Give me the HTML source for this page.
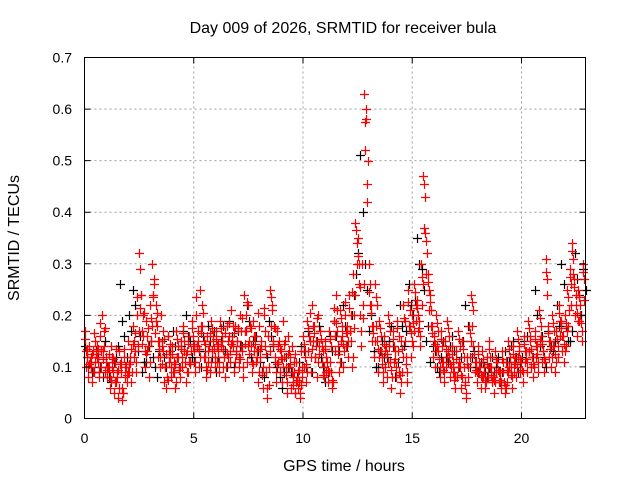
<!DOCTYPE html>
<html><head><meta charset="utf-8"><style>
body{margin:0;background:#fff;}
svg{display:block;font-family:"Liberation Sans",sans-serif;}
</style></head><body>
<svg id="chart" width="640" height="480" viewBox="0 0 640 480">
<rect x="0" y="0" width="640" height="480" fill="#fff"/>
<g id="grid"></g>
<g id="marks"></g>
<rect x="84.5" y="57.5" width="501" height="361" fill="none" stroke="#000" stroke-width="1"/>
<g id="ticks" font-size="14" fill="#000"></g>
<text x="343" y="33" text-anchor="middle" font-size="16">Day 009 of 2026, SRMTID for receiver bula</text>
<text x="344" y="471" text-anchor="middle" font-size="16">GPS time / hours</text>
<text transform="translate(19,238) rotate(-90)" text-anchor="middle" font-size="16">SRMTID / TECUs</text>
</svg>
<script>
const xTicks=[0,5,10,15,20];
const yTicks=[0,0.1,0.2,0.3,0.4,0.5,0.6,0.7];
const yTickLabels=["0","0.1","0.2","0.3","0.4","0.5","0.6","0.7"];
const redStart=0, redStep=0.1, blackStart=0, blackStep=0.2;
const redA=[.17,.12,.14,.10,.13,.15,.11,.16,.20,.14,
.12,.10,.14,.09,.11,.08,.13,.06,.12,.10,
.15,.11,.18,.13,.20,.32,.24,.16,.19,.14,
.22,.30,.26,.18,.15,.20,.13,.10,.16,.12,
.14,.09,.17,.12,.15,.18,.11,.13,.16,.19,
.13,.20,.15,.25,.18,.12,.16,.14,.19,.15,
.17,.13,.19,.15,.12,.18,.16,.21,.14,.18,
.15,.20,.13,.24,.17,.22,.14,.19,.16,.12,
.18,.14,.20,.09,.16,.25,.21,.12,.17,.15,
.13,.19,.10,.16,.12,.14,.09,.11,.07,.13,
.16,.12,.19,.15,.22,.18,.14,.20,.17,.13,
.15,.11,.17,.09,.19,.24,.14,.21,.16,.20,
.18,.24,.15,.28,.38,.35,.20,.30,.63,.58,
.30,.22,.18,.26,.15,.19,.12,.16,.14,.20,
.11,.17,.13,.19,.09,.15,.22,.12,.25,.18,
.20,.26,.23,.19,.30,.47,.36,.28,.24,.18,
.16,.20,.13,.17,.11,.15,.19,.12,.14,.09,
.13,.17,.10,.15,.07,.12,.18,.24,.14,.11,
.14,.10,.13,.09,.12,.15,.10,.08,.13,.11,
.09,.13,.07,.11,.15,.10,.14,.12,.17,.13,
.11,.16,.13,.19,.15,.12,.17,.14,.21,.16,
.13,.31,.18,.15,.20,.14,.17,.22,.19,.16,
.20,.25,.29,.34,.27,.22,.25,.20,.30];
const redB=[.10,.08,.11,.07,.09,.12,.08,.10,.13,.09,
.08,.06,.10,.05,.07,.04,.09,.05,.08,.07,
.09,.07,.12,.09,.14,.29,.17,.10,.13,.08,
.15,.24,.19,.12,.10,.14,.07,.06,.11,.08,
.09,.06,.12,.08,.10,.13,.07,.09,.11,.14,
.09,.14,.10,.18,.12,.08,.11,.09,.13,.10,
.11,.09,.14,.10,.08,.12,.11,.15,.09,.13,
.10,.14,.08,.17,.11,.15,.09,.13,.11,.07,
.12,.06,.14,.04,.10,.18,.15,.07,.11,.09,
.07,.12,.05,.10,.06,.08,.05,.06,.04,.08,
.10,.07,.13,.09,.15,.12,.08,.14,.11,.08,
.09,.07,.11,.06,.13,.17,.09,.15,.10,.14,
.12,.17,.10,.20,.30,.26,.14,.22,.52,.42,
.22,.15,.12,.18,.09,.13,.07,.10,.08,.14,
.06,.11,.08,.13,.05,.09,.15,.07,.18,.12,
.14,.19,.17,.14,.22,.37,.28,.21,.18,.12,
.10,.14,.08,.11,.07,.10,.13,.08,.09,.06,
.08,.11,.06,.10,.04,.08,.12,.18,.09,.07,
.09,.06,.08,.06,.08,.10,.07,.05,.09,.07,
.06,.09,.05,.07,.10,.06,.09,.08,.12,.09,
.07,.11,.09,.13,.10,.08,.12,.09,.15,.11,
.09,.24,.12,.10,.14,.09,.12,.16,.13,.11,
.14,.18,.22,.28,.20,.16,.19,.15,.23];
const redC=[.13,.10,.12,.09,.11,.14,.09,.13,.17,.11,
.10,.08,.12,.07,.09,.06,.11,.05,.10,.09,
.12,.09,.15,.11,.17,.24,.20,.13,.16,.11,
.18,.27,.22,.15,.12,.17,.10,.08,.13,.10,
.11,.07,.14,.10,.12,.15,.09,.11,.13,.16,
.11,.17,.12,.22,.15,.10,.13,.11,.16,.12,
.14,.11,.16,.12,.10,.15,.13,.18,.11,.15,
.12,.17,.10,.20,.14,.18,.11,.16,.13,.09,
.15,.10,.17,.06,.13,.22,.18,.09,.14,.12,
.10,.15,.07,.13,.09,.11,.07,.09,.05,.10,
.13,.09,.16,.12,.18,.15,.11,.17,.14,.10,
.12,.09,.14,.07,.16,.21,.11,.18,.13,.17,
.15,.20,.12,.24,.34,.30,.17,.26,.60,.50,
.26,.18,.15,.22,.12,.16,.09,.13,.11,.17,
.08,.14,.10,.16,.07,.12,.19,.09,.21,.15,
.17,.22,.20,.16,.26,.43,.32,.25,.21,.15,
.13,.17,.10,.14,.09,.12,.16,.10,.11,.08,
.10,.14,.08,.12,.05,.10,.15,.21,.11,.09,
.11,.08,.10,.07,.10,.12,.08,.07,.11,.09,
.07,.11,.06,.09,.12,.08,.11,.10,.14,.11,
.09,.13,.11,.16,.12,.10,.14,.11,.18,.13,
.11,.27,.15,.12,.17,.11,.14,.19,.16,.13,
.17,.21,.26,.31,.24,.19,.22,.17,.27];
const redD=[.155,.135,.105,.125,.165,.125,.135,.185,.115,.175,
.095,.125,.075,.115,.135,.095,.105,.035,.135,.085,
.105,.135,.145,.165,.235,.215,.145,.205,.125,.175,
.195,.235,.165,.205,.135,.105,.155,.125,.075,.145,
.125,.105,.155,.095,.135,.165,.125,.145,.105,.175,
.145,.235,.135,.165,.205,.145,.095,.165,.175,.135,
.155,.145,.175,.135,.165,.125,.185,.145,.165,.125,
.175,.115,.195,.145,.225,.125,.175,.105,.145,.205,
.135,.085,.215,.125,.065,.235,.145,.175,.105,.135,
.115,.145,.085,.125,.105,.065,.125,.075,.095,.065,
.145,.105,.175,.205,.135,.165,.195,.125,.155,.085,
.135,.095,.155,.075,.215,.185,.125,.195,.145,.225,
.165,.215,.245,.175,.365,.315,.255,.195,.575,.455,
.245,.205,.165,.235,.135,.175,.105,.145,.125,.185,
.095,.155,.115,.175,.085,.135,.195,.105,.225,.165,
.185,.245,.215,.175,.275,.455,.345,.265,.225,.165,
.145,.185,.115,.155,.095,.135,.175,.105,.125,.075,
.115,.155,.085,.135,.065,.105,.165,.225,.125,.095,
.125,.085,.115,.075,.105,.135,.085,.075,.115,.095,
.075,.115,.065,.095,.135,.085,.125,.105,.155,.115,
.095,.145,.115,.175,.135,.105,.155,.125,.195,.145,
.115,.285,.165,.135,.185,.125,.155,.205,.175,.145,
.185,.235,.275,.325,.255,.205,.235,.185,.285];
const black=[.14,.11,.09,.12,.08,.10,.07,.12,.26,.16,.20,.25,.13,.09,.11,.15,.10,.13,.12,.16,
.17,.12,.14,.20,.15,.11,.13,.16,.18,.12,.09,.15,.13,.19,.10,.17,.14,.22,.12,.16,
.11,.08,.19,.14,.10,.06,.12,.09,.05,.11,.13,.17,.09,.15,.12,.07,.16,.19,.13,.22,
.14,.20,.28,.51,.30,.17,.13,.10,.15,.12,.18,.08,.22,.14,.26,.20,.35,.29,.15,.11,
.13,.09,.15,.11,.16,.08,.12,.22,.10,.13,.09,.11,.08,.12,.10,.07,.13,.11,.15,.09,
.12,.16,.10,.25,.14,.12,.17,.13,.22,.30,.18,.15,.32,.24,.29];
const black2=[.12,.09,.13,.10,.15,.08,.11,.14,.19,.12,.17,.22,.16,.11,.14,.12,.08,.15,.10,.13,
.14,.10,.17,.16,.12,.14,.10,.13,.15,.17,.12,.18,.10,.16,.13,.14,.17,.19,.15,.13,
.09,.12,.16,.11,.08,.09,.10,.07,.08,.14,.10,.15,.12,.18,.10,.09,.13,.16,.11,.18,
.17,.24,.32,.40,.25,.20,.10,.13,.12,.15,.14,.11,.18,.17,.22,.23,.30,.25,.18,.14,
.10,.12,.12,.14,.13,.10,.15,.18,.12,.10,.11,.09,.10,.09,.12,.09,.11,.14,.12,.11,
.15,.13,.12,.20,.16,.10,.14,.15,.18,.26,.15,.17,.27,.20,.25];

const X0=84.5,X1=585.5,Y0=418.5,Y1=57.5,XMAX=22.93,YMAX=0.7;
function xs(v){return X0+(X1-X0)*v/XMAX;}
function ys(v){return Y0-(Y0-Y1)*v/YMAX;}
const NS="http://www.w3.org/2000/svg";
const grid=document.getElementById('grid'),ticks=document.getElementById('ticks'),marks=document.getElementById('marks');
function mk(tag,attrs,parent){const e=document.createElementNS(NS,tag);for(const k in attrs)e.setAttribute(k,attrs[k]);parent.appendChild(e);return e;}
xTicks.forEach(t=>{
  const x=xs(t);
  if(t>0){const g=mk('line',{x1:x,x2:x,y1:Y0,y2:Y1,stroke:'#a0a0a0','stroke-dasharray':'2,3'},grid);
  
  }
  const tk=mk('path',{d:`M${x},${Y0}v-6M${x},${Y1}v6`,stroke:'#000'},ticks);
  
  
  const l=mk('text',{x:x,y:443,'text-anchor':'middle'},ticks);l.textContent=t;
  
  
});
yTicks.forEach((t,i)=>{
  const y=ys(t);
  if(t>0&&t<YMAX){const g=mk('line',{x1:X0,x2:X1,y1:y,y2:y,stroke:'#a0a0a0','stroke-dasharray':'2,3'},grid);
  
  }
  const tk=mk('path',{d:`M${X0},${y}h6M${X1},${y}h-6`,stroke:'#000'},ticks);
  
  
  const l=mk('text',{x:72,y:y+5,'text-anchor':'end'},ticks);l.textContent=yTickLabels[i];
  
  
});
function plus(arr,start,step,color,name,offset){
  let d='';
  arr.forEach((v,i)=>{const x=Math.round(xs(start+step*i+offset))+0.5,y=Math.round(ys(v))+0.5;d+=`M${x-4.5},${y}h9M${x},${y-4.5}v9`;});
  const p=mk('path',{d:d,stroke:color,'stroke-width':1.2,fill:'none'},marks);
  
  
}
plus(black,blackStart,blackStep,'#000','series-black-points',0.03);
plus(black2,blackStart,blackStep,'#000','series-black-points-2',0.13);
plus(redA,redStart,redStep,'#ff0000','series-red-points-a',0);
plus(redD,redStart,redStep,'#ff0000','series-red-points-d',0.025);
plus(redB,redStart,redStep,'#ff0000','series-red-points-b',0.05);
plus(redC,redStart,redStep,'#ff0000','series-red-points-c',0.075);
</script>
</body></html>
